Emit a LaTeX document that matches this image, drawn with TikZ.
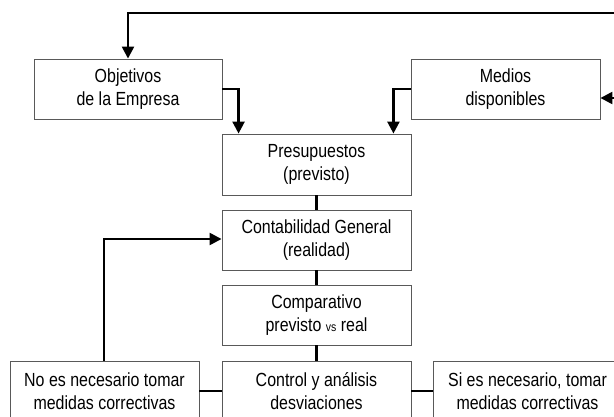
\documentclass[tikz,border=0pt]{standalone}
\usepackage{fontspec}
\setmainfont[FakeStretch=0.84]{Liberation Sans}
\usetikzlibrary{arrows.meta}
\begin{document}
\begin{tikzpicture}[x=1pt,y=-1pt,
  box/.style={draw=black!65, line width=0.9pt, fill=white, align=center,
    minimum width=189pt, minimum height=60pt, inner sep=0pt,
    font=\fontsize{19}{23}\selectfont},
  conn/.style={line width=2.4pt, black},
  arr/.style={conn, -{Triangle[length=12pt,width=12pt]}}]
\clip (0,0) rectangle (614,417);
\fill[white] (0,0) rectangle (614,417);
\node[box, minimum width=188pt] (obj) at (128,89) {Objetivos\\de la Empresa};
\node[box] (med) at (505.5,89) {Medios\\disponibles};
\node[box, minimum height=61pt] (pres) at (316.5,164.5) {Presupuestos\\(previsto)};
\node[box] (cont) at (316.5,240) {Contabilidad General\\(realidad)};
\node[box] (comp) at (316.5,315) {Comparativo\\previsto {\fontsize{12.5}{14}\selectfont vs} real};
\node[box] (ctrl) at (316.5,391) {Control y análisis\\desviaciones};
\node[box] (noes) at (104.5,391) {No es necesario tomar\\medidas correctivas};
\node[box] (si) at (527.5,391) {Si es necesario, tomar\\medidas correctivas};
\coordinate (tr) at (640,13);
\coordinate (mr) at (640,98);
\coordinate (fb) at (104,239);
\draw[arr] (tr) -| (obj.north);
\draw[arr] (mr) -- (mr -| med.east);
\draw[arr] (obj.east) -| ([xshift=17pt]pres.north west);
\draw[arr] (med.west) -| ([xshift=-18pt]pres.north east);
\draw[conn] (pres.south) -- (cont.north);
\draw[conn] (cont.south) -- (comp.north);
\draw[conn] (comp.south) -- (ctrl.north);
\draw[conn] (noes.east) -- (ctrl.west);
\draw[conn] (ctrl.east) -- (si.west);
\draw[arr] (noes.north -| fb) -- (fb) -- (fb -| cont.west);
\end{tikzpicture}
\end{document}
